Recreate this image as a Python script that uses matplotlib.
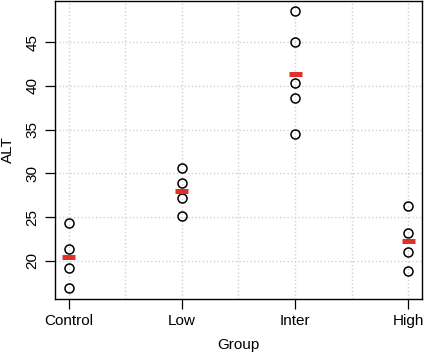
import numpy as np
import matplotlib.pyplot as plt

plt.rcParams['font.family'] = ['Liberation Sans', 'DejaVu Sans']

groups = ['Control', 'Low', 'Inter', 'High']
control = [24.35, 21.3, 19.15, 16.9]
low = [30.65, 28.95, 27.2, 25.15]
inter = [48.5, 45.05, 40.3, 38.6, 34.5]
high = [26.25, 23.15, 21.05, 18.8]
values = [control, low, inter, high]

fig = plt.figure(figsize=(4.25, 3.55), dpi=100)
ax = fig.add_axes([55/425, 1 - 299/355, 367/425, 298/355])

for i, vals in enumerate(values):
    pos = i + 1
    ax.plot([pos] * len(vals), vals, linestyle='none', marker='o', markersize=6.5,
            markerfacecolor='none', markeredgecolor='black', markeredgewidth=1.1, zorder=3)
    # red bar at the group mean
    ax.plot([pos - 0.058, pos + 0.058], [np.mean(vals)] * 2, color='#e0302a',
            linewidth=3.6, solid_capstyle='butt', zorder=4)

ax.set_xlim(0.88, 4.12)
ax.set_ylim(15.64, 49.7)
ax.set_xticks([1, 2, 3, 4])
ax.set_xticklabels(groups)
ax.set_yticks([20, 25, 30, 35, 40, 45])
ax.set_xticks(np.arange(1, 4.01, 0.5), minor=True)
ax.tick_params(axis='x', which='minor', length=0)
for lbl in ax.get_yticklabels():
    lbl.set_rotation(90)
    lbl.set_va('center')
ax.tick_params(axis='both', which='major', length=7, width=0.9, labelsize=11, pad=4)
ax.grid(True, which='both', axis='x', color='#d0d0d0', linestyle=':', linewidth=1)
ax.grid(True, which='major', axis='y', color='#d0d0d0', linestyle=':', linewidth=1)
ax.set_axisbelow(True)
for s in ax.spines.values():
    s.set_linewidth(1)
ax.set_xlabel('Group', fontsize=11, labelpad=7)
ax.set_ylabel('ALT', fontsize=11, labelpad=8)

fig.savefig('out.png', dpi=100)
